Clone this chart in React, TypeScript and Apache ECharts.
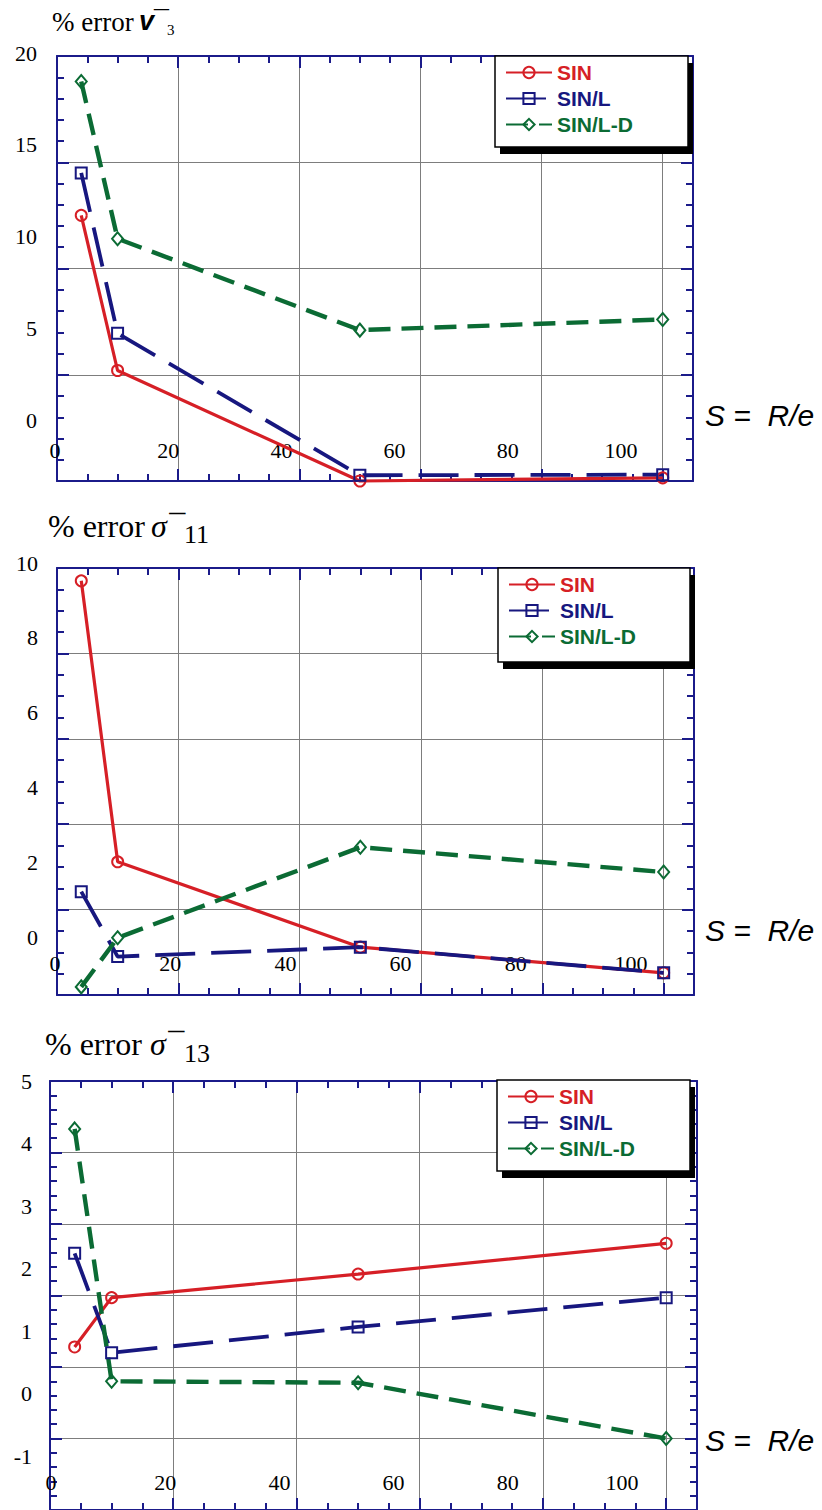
import React, { useEffect, useRef } from "react";
import * as echarts from "echarts";

// ---------------- data ----------------
const S_VALUES = [4, 10, 50, 100];
const SERIES_NAMES = ["SIN", "SIN/L", "SIN/L-D"];

// % error v3
const V3_SIN = [12.5, 5.2, 0.0, 0.15];
const V3_SIN_L = [14.5, 6.95, 0.27, 0.3];
const V3_SIN_LD = [18.8, 11.4, 7.1, 7.6];

// % error sigma11
const S11_SIN = [9.7, 3.12, 1.12, 0.52];
const S11_SIN_L = [2.42, 0.9, 1.12, 0.52];
const S11_SIN_LD = [0.19, 1.34, 3.46, 2.88];

// % error sigma13
const S13_SIN = [1.28, 1.97, 2.3, 2.73];
const S13_SIN_L = [2.59, 1.2, 1.56, 1.97];
const S13_SIN_LD = [4.33, 0.8, 0.78, 0.0];

// tick labels
const X_TICK_LABELS = [0, 20, 40, 60, 80, 100];
const V3_TICK_LABELS = [0, 5, 10, 15, 20];
const S11_TICK_LABELS = [0, 2, 4, 6, 8, 10];
const S13_TICK_LABELS = [-1, 0, 1, 2, 3, 4, 5];

// frame (grid) scales
const X_FRAME = [0, 105, 20, 5]; // min, max, major step, minor step
const V3_FRAME = [0, 20, 5];
const S11_FRAME = [0, 10, 2];
const S13_FRAME = [-1, 5, 1];

const TITLE_V3 = ["% error", "v\u00AF", "3"];
const TITLE_S11 = ["% error", "σ\u00AF", "11"];
const TITLE_S13 = ["% error", "σ\u00AF", "13"];
const S_LABEL = "S =  R/e";

// ---------------- styles / layout ----------------
const NAVY = "#1b1b8a";
const GRID_GRAY = "#7d7d7d";
const COLORS = ["#d61f26", "#17177f", "#0b6b34"];
const SYMBOLS = ["circle", "rect", "diamond"];
const SYMBOL_SIZES: any[] = [11, 11, [11, 13]];
const LINE_TYPES: any[] = ["solid", [40, 16], [22, 11]];
const LINE_WIDTHS = [3.2, 3.8, 4.4];
const SERIF = "Liberation Serif, Times New Roman, serif";
const SANS = "Liberation Sans, Arial, sans-serif";

type TxtLayout = { x: number; y: number; family: string; size: number; style?: string; weight?: string };

const PANELS = [
  {
    values: [V3_SIN, V3_SIN_L, V3_SIN_LD],
    yLabels: V3_TICK_LABELS,
    yFrame: V3_FRAME,
    yMinorSplit: 5,
    plot: { left: 57, top: 56, width: 636, height: 425 },
    lab: { left: 55, top: 53, width: 566, height: 367, xMargin: 19, yMargin: 18 },
    legendBox: { x: 495, y: 56, w: 193, h: 91 },
    sLabelY: 415,
    title: TITLE_V3,
    titleLayout: [
      { x: 52, y: 22, family: SERIF, size: 27 },
      { x: 139, y: 21, family: SANS, size: 27, style: "italic", weight: "bold" },
      { x: 167, y: 30, family: SERIF, size: 15 },
    ] as TxtLayout[],
  },
  {
    values: [S11_SIN, S11_SIN_L, S11_SIN_LD],
    yLabels: S11_TICK_LABELS,
    yFrame: S11_FRAME,
    yMinorSplit: 4,
    plot: { left: 57, top: 568, width: 637, height: 427 },
    lab: { left: 55, top: 563, width: 576, height: 374, xMargin: 15, yMargin: 17 },
    legendBox: { x: 498, y: 568, w: 192, h: 94 },
    sLabelY: 930,
    title: TITLE_S11,
    titleLayout: [
      { x: 48, y: 526, family: SERIF, size: 32 },
      { x: 151, y: 526, family: SERIF, size: 32, style: "italic" },
      { x: 184, y: 534, family: SERIF, size: 26 },
    ] as TxtLayout[],
  },
  {
    values: [S13_SIN, S13_SIN_L, S13_SIN_LD],
    yLabels: S13_TICK_LABELS,
    yFrame: S13_FRAME,
    yMinorSplit: 5,
    plot: { left: 50, top: 1081, width: 647, height: 433 },
    lab: { left: 51, top: 1081, width: 571, height: 375, xMargin: 15, yMargin: 19 },
    legendBox: { x: 497, y: 1080, w: 193, h: 91 },
    sLabelY: 1440,
    title: TITLE_S13,
    titleLayout: [
      { x: 45, y: 1044, family: SERIF, size: 32 },
      { x: 150, y: 1044, family: SERIF, size: 32, style: "italic" },
      { x: 184, y: 1053, family: SERIF, size: 26 },
    ] as TxtLayout[],
  },
];

function buildOption() {
  const grid: any[] = [];
  const xAxis: any[] = [];
  const yAxis: any[] = [];
  const series: any[] = [];
  const legend: any[] = [];
  const graphic: any[] = [];

  const axisLine = (show: boolean) => ({
    show,
    onZero: false,
    lineStyle: { color: NAVY, width: 2 },
  });

  PANELS.forEach((p) => {
    const gm = grid.length;
    grid.push({ ...p.plot });
    const gt = grid.length;
    grid.push({ ...p.plot });
    const gl = grid.length;
    grid.push({ left: p.lab.left, top: p.lab.top, width: p.lab.width, height: p.lab.height });

    // ---- frame axes (data) ----
    const xData = xAxis.length;
    const frameX = (position: string, split: boolean) => ({
      gridIndex: gm,
      type: "value",
      position,
      min: X_FRAME[0],
      max: X_FRAME[1],
      interval: X_FRAME[2],
      axisLine: axisLine(true),
      axisTick: { show: true, inside: true, length: 12, lineStyle: { color: NAVY, width: 2 } },
      axisLabel: { show: false },
      splitLine: { show: split, lineStyle: { color: GRID_GRAY, width: 1 } },
    });
    xAxis.push(frameX("bottom", true));
    xAxis.push(frameX("top", false));
    const minorX = (position: string) => ({
      gridIndex: gt,
      type: "value",
      position,
      min: X_FRAME[0],
      max: X_FRAME[1],
      interval: X_FRAME[3],
      axisLine: axisLine(false),
      axisTick: { show: true, inside: true, length: 7, lineStyle: { color: NAVY, width: 2 } },
      axisLabel: { show: false },
      splitLine: { show: false },
    });
    xAxis.push(minorX("bottom"));
    xAxis.push(minorX("top"));
    xAxis.push({
      gridIndex: gl,
      type: "value",
      position: "bottom",
      min: X_TICK_LABELS[0],
      max: X_TICK_LABELS[X_TICK_LABELS.length - 1],
      interval: X_TICK_LABELS[1] - X_TICK_LABELS[0],
      axisLine: axisLine(false),
      axisTick: { show: false },
      splitLine: { show: false },
      axisLabel: { show: true, margin: p.lab.xMargin, fontFamily: SERIF, fontSize: 22, color: "#000" },
    });

    const yData = yAxis.length;
    const frameY = (position: string, split: boolean) => ({
      gridIndex: gm,
      type: "value",
      position,
      min: p.yFrame[0],
      max: p.yFrame[1],
      interval: p.yFrame[2],
      axisLine: axisLine(true),
      axisTick: { show: true, inside: true, length: 12, lineStyle: { color: NAVY, width: 2 } },
      minorTick: { show: true, splitNumber: p.yMinorSplit, length: 7, lineStyle: { color: NAVY, width: 2 } },
      axisLabel: { show: false },
      splitLine: { show: split, lineStyle: { color: GRID_GRAY, width: 1 } },
    });
    yAxis.push(frameY("left", true));
    yAxis.push(frameY("right", false));
    yAxis.push({ gridIndex: gt, type: "value", show: false, min: 0, max: 1 });
    yAxis.push({
      gridIndex: gl,
      type: "value",
      position: "left",
      min: p.yLabels[0],
      max: p.yLabels[p.yLabels.length - 1],
      interval: p.yLabels[1] - p.yLabels[0],
      axisLine: axisLine(false),
      axisTick: { show: false },
      splitLine: { show: false },
      axisLabel: { show: true, margin: p.lab.yMargin, fontFamily: SERIF, fontSize: 22, color: "#000" },
    });

    // ---- series ----
    p.values.forEach((vals, k) => {
      series.push({
        name: SERIES_NAMES[k],
        type: "line",
        xAxisIndex: xData,
        yAxisIndex: yData,
        data: S_VALUES.map((s, j) => [s, vals[j]]),
        symbol: SYMBOLS[k],
        symbolSize: SYMBOL_SIZES[k],
        showSymbol: true,
        clip: false,
        z: 3,
        lineStyle: { color: COLORS[k], width: LINE_WIDTHS[k], type: LINE_TYPES[k] },
        itemStyle: { color: "rgba(255,255,255,0)", borderColor: COLORS[k], borderWidth: 2 },
      });
    });

    // ---- legend ----
    const b = p.legendBox;
    graphic.push({
      type: "rect",
      z: 10,
      shape: { x: b.x + 5, y: b.y + 7, width: b.w, height: b.h },
      style: { fill: "#000" },
    });
    graphic.push({
      type: "rect",
      z: 11,
      shape: { x: b.x, y: b.y, width: b.w, height: b.h },
      style: { fill: "#fff", stroke: "#000", lineWidth: 1.5 },
    });
    legend.push({
      orient: "vertical",
      left: b.x + 10,
      top: b.y + 6,
      padding: 0,
      itemGap: 5,
      itemWidth: 46,
      itemHeight: 14,
      selectedMode: false,
      z: 12,
      textStyle: { fontFamily: SANS, fontWeight: "bold", fontSize: 21, lineHeight: 21 },
      data: SERIES_NAMES.map((n, k) => ({
        name: n,
        textStyle: { color: COLORS[k], fontWeight: "bold", fontSize: 21, fontFamily: SANS },
      })),
    });

    // ---- titles & S label ----
    p.titleLayout.forEach((t, j) => {
      graphic.push({
        type: "text",
        z: 20,
        x: t.x,
        y: t.y,
        style: {
          text: p.title[j],
          fontFamily: t.family,
          fontSize: t.size,
          fontStyle: t.style || "normal",
          fontWeight: t.weight || "normal",
          fill: "#000",
          align: "left",
          verticalAlign: "middle",
        },
      });
    });
    graphic.push({
      type: "text",
      z: 20,
      x: 705,
      y: p.sLabelY,
      style: {
        text: S_LABEL,
        fontFamily: SANS,
        fontSize: 30,
        fontStyle: "italic",
        fill: "#000",
        align: "left",
        verticalAlign: "middle",
      },
    });
  });

  return {
    animation: false,
    backgroundColor: "#fff",
    grid,
    xAxis,
    yAxis,
    series,
    legend,
    graphic,
  };
}

export default function App() {
  const ref = useRef<HTMLDivElement>(null);
  useEffect(() => {
    if (!ref.current) return;
    const chart = echarts.init(ref.current, null, { renderer: "svg" });
    chart.setOption(buildOption());
    return () => chart.dispose();
  }, []);
  return (
    <div
      ref={ref}
      style={{ position: "absolute", left: 0, top: 0, width: 822, height: 1510, background: "#fff" }}
    />
  );
}
